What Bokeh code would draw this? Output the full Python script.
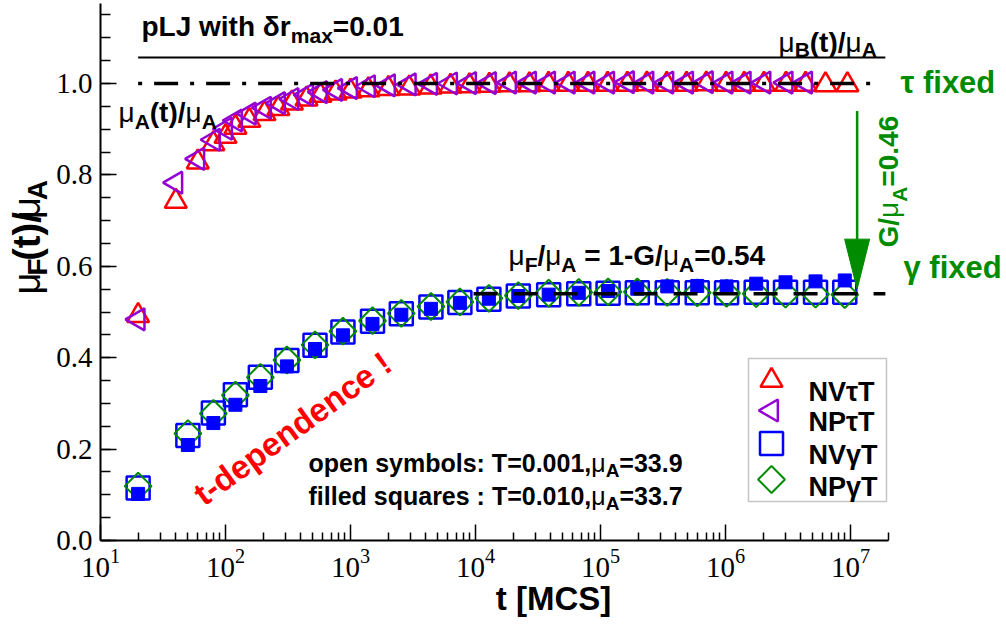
import math
from bokeh.plotting import figure
from bokeh.layouts import row
from bokeh.models import (Label, BoxAnnotation, FixedTicker, SingleIntervalTicker,
                          PrintfTickFormatter, LogTickFormatter)
from bokeh.embed import file_html
from bokeh.resources import INLINE

# ---------------- data ----------------
# tau-fixed ensembles (open triangles), T = 0.001
t_nv_tau = [20, 40, 60, 80, 100, 120, 155, 205, 265, 340, 445, 575, 760, 1000, 1390,
            2010, 2950, 4370, 6310, 8950, 12900, 18700, 27000, 38400, 55200, 79400,
            114000, 164000, 235000, 339000, 488000, 702000, 1010000, 1410000, 2030000,
            3050000, 4370000, 6310000, 9450000]
nv_tau = [0.492, 0.742, 0.828, 0.868, 0.884, 0.904, 0.919, 0.934, 0.945, 0.957, 0.966,
          0.974, 0.979, 0.983, 0.986, 0.989, 0.990, 0.992, 0.994, 0.995, 0.996, 0.997,
          0.997, 0.998, 0.998, 0.998, 0.998, 0.998, 0.999, 0.998, 0.998, 0.999, 0.998,
          0.998, 0.998, 0.998, 0.998, 0.997, 0.997]
t_np_tau = [20, 40, 60, 80, 100, 120, 155, 205, 265, 340, 445, 575, 760, 1000, 1390,
            2010, 2950, 4370, 6310, 8950, 12900, 18700, 27000, 38400, 55200, 79400,
            114000, 164000, 235000, 339000, 488000, 702000, 1010000, 1410000, 2030000,
            3050000, 4370000]
np_tau = [0.484, 0.783, 0.835, 0.877, 0.901, 0.919, 0.934, 0.947, 0.957, 0.966, 0.975,
          0.981, 0.986, 0.990, 0.994, 0.996, 0.998, 0.999, 1.000, 1.001, 1.001, 1.002,
          1.002, 1.002, 1.002, 1.002, 1.002, 1.003, 1.002, 1.002, 1.002, 1.003, 1.002,
          1.002, 1.002, 1.002, 1.002]

# gamma-fixed ensembles (open squares / diamonds T=0.001, filled squares T=0.010)
t_gamma = [20, 50, 80, 120, 190, 310, 520, 870, 1500, 2550, 4400, 7500, 12800, 22000,
           38500, 67000, 115000, 197000, 342000, 594000, 1020000, 1760000, 3020000,
           5250000, 9000000]
nv_gamma = [0.115, 0.230, 0.279, 0.319, 0.357, 0.394, 0.427, 0.456, 0.480, 0.496, 0.511,
            0.521, 0.528, 0.535, 0.538, 0.540, 0.541, 0.542, 0.542, 0.542, 0.542, 0.543,
            0.543, 0.543, 0.543]
np_gamma = [0.119, 0.234, 0.278, 0.318, 0.357, 0.395, 0.428, 0.458, 0.481, 0.497, 0.512,
            0.522, 0.530, 0.536, 0.541, 0.543, 0.544, 0.544, 0.543, 0.542, 0.541, 0.540,
            0.539, 0.539, 0.538]
nv_gamma_T010 = [0.102, 0.209, 0.257, 0.297, 0.338, 0.381, 0.419, 0.449, 0.474, 0.494,
                 0.507, 0.520, 0.529, 0.535, 0.538, 0.542, 0.546, 0.551, 0.556, 0.557,
                 0.556, 0.562, 0.565, 0.567, 0.569]

# reference levels
mu_B_ratio = 1.057          # mu_B(t)/mu_A
mu_B_t = [20, 1.9e7]
mu_A_ratio = 1.0            # mu_A(t)/mu_A
mu_A_t = [20, 1.45e7]
mu_F_ratio = 0.54           # mu_F/mu_A = 1 - G/mu_A
mu_F_t = [9650, 1.9e7]
arrow_t = 1.13e7
arrow_y = [0.94, 0.55]

x_axis_bounds = (10, 2e7)
x_major = [10, 100, 1e3, 1e4, 1e5, 1e6, 1e7]
x_minor = [m * 10 ** k for k in range(1, 8) for m in range(2, 10) if m * 10 ** k <= 2e7]

legend_names = ["NV\u03c4T", "NP\u03c4T", "NV\u03b3T", "NP\u03b3T"]

# ---------------- styling / layout ----------------
RED, VIOLET, BLUE, GREEN = "#ff0000", "#9400d3", "#0000ff", "#008b00"
SANS, SERIF = "Liberation Sans", "Liberation Serif"
H = 624
LW = 52                      # width of the strip holding the y-axis title
W = 1006 - LW
ML, MR, MT, MB = 48, 0, 3, 84
FW, FH = W - ML - MR, H - MT - MB
FRAME_L = LW + ML            # page x of the frame's left edge
FRAME_B = MT + FH            # page y of the frame's bottom edge
DEC_PX = 125.0               # pixels per decade
UNIT_PX = 457.0              # pixels per unit of mu/mu_A
X_MIN = 10
X_END = 10 ** (math.log10(X_MIN) + FW / DEC_PX)
Y_MIN = 0.0
Y_MAX = FH / UNIT_PX
ROT_FIX = 0.36               # baseline correction (em) for vertical texts


def xd(px):
    return 10 ** (math.log10(X_MIN) + (px - FRAME_L) / DEC_PX)


def yd(py):
    return Y_MIN + (FRAME_B - py) / UNIT_PX


BOLDW = {' ': .278, '!': .333, '(': .333, ')': .333, ',': .278, '-': .333, '.': .278,
         '/': .278, ':': .333, '=': .584, 'A': .722, 'B': .722, 'C': .722, 'F': .611,
         'G': .778, 'J': .556, 'L': .611, 'M': .833, 'N': .722, 'P': .667, 'S': .667,
         'T': .611, 'V': .667, '[': .333, ']': .333, 'a': .556, 'b': .611, 'c': .556,
         'd': .611, 'e': .556, 'f': .333, 'h': .611, 'i': .278, 'l': .278, 'm': .889,
         'n': .611, 'o': .611, 'p': .611, 'q': .611, 'r': .389, 's': .556, 't': .333,
         'u': .611, 'w': .778, 'x': .556, 'y': .556, '\u03b4': .611, '\u03c4': .5,
         '\u03b3': .556, '\u03bc': .611}


def text_width(s, size, bold):
    tot = 0.0
    for ch in s:
        if ch.isdigit():
            tot += .556
        elif not bold and ch == '\u03bc':
            tot += .576
        else:
            tot += BOLDW.get(ch, .6)
    return tot * size


def put_runs(fig, fx, fy, x0, y0, runs, color="black", angle=0.0):
    pos = 0.0
    for text, size, bold, shift in runs:
        core = text.strip(" ")
        lead = len(text) - len(text.lstrip(" "))
        trail = len(text) - len(text.rstrip(" "))
        pos += lead * .278 * size
        if angle == 0:
            px, py = x0 + pos, y0 + shift
        else:
            px, py = x0 + shift - ROT_FIX * size, y0 - pos
        fig.add_layout(Label(x=fx(px), y=fy(py), text=core, text_font=SANS,
                             text_font_size=f"{size}px",
                             text_font_style="bold" if bold else "normal",
                             text_color=color, text_align="left",
                             text_baseline="alphabetic", angle=angle))
        pos += text_width(core, size, bold) + trail * .278 * size


# ---------------- main figure ----------------
p = figure(width=W, height=H, x_axis_type="log", x_range=(X_MIN, X_END),
           y_range=(Y_MIN, Y_MAX), output_backend="svg", toolbar_location=None,
           min_border_left=ML, min_border_right=MR, min_border_top=MT,
           min_border_bottom=MB)
p.outline_line_color = None
p.grid.visible = False
p.background_fill_color = "white"
p.border_fill_color = "white"

for ax in (p.xaxis[0], p.yaxis[0]):
    ax.axis_line_width = 2
    ax.axis_line_color = "black"
    ax.major_tick_in = 16
    ax.major_tick_out = 0
    ax.minor_tick_out = 0
    ax.major_tick_line_width = 1.5
    ax.minor_tick_line_width = 1.5
    ax.major_tick_line_color = "black"
    ax.minor_tick_line_color = "black"
    ax.major_label_text_font = SERIF
    ax.major_label_text_font_size = "29px"
    ax.major_label_text_color = "black"
p.xaxis.minor_tick_in = 8
p.yaxis.minor_tick_in = 10
p.xaxis.bounds = x_axis_bounds
p.xaxis.ticker = FixedTicker(ticks=x_major, minor_ticks=x_minor)
p.xaxis.formatter = LogTickFormatter()
p.xaxis.major_label_standoff = 8
p.xaxis.axis_label = "t [MCS]"
p.xaxis.axis_label_text_font = SANS
p.xaxis.axis_label_text_font_style = "bold"
p.xaxis.axis_label_text_font_size = "33px"
p.xaxis.axis_label_text_color = "black"
p.xaxis.axis_label_standoff = 0
p.yaxis.ticker = SingleIntervalTicker(interval=0.2, num_minor_ticks=4)
p.yaxis.formatter = PrintfTickFormatter(format="%.1f")
p.yaxis.major_label_standoff = 8

# data markers
p.scatter(t_nv_tau, nv_tau, marker="triangle", size=22, fill_color=None,
          line_color=RED, line_width=2.5)
p.scatter(t_np_tau, np_tau, marker="triangle", angle=math.pi / 2, size=22,
          fill_color=None, line_color=VIOLET, line_width=2.5)
p.scatter(t_gamma, nv_gamma, marker="square", size=23, fill_color=None,
          line_color=BLUE, line_width=2.5)
p.scatter(t_gamma, np_gamma, marker="square", angle=math.pi / 4, size=19,
          fill_color=None, line_color=GREEN, line_width=2)
p.scatter(t_gamma, nv_gamma_T010, marker="square", size=13, fill_color=BLUE,
          line_color=BLUE, line_width=1)

# reference lines
p.line(mu_B_t, [mu_B_ratio] * 2, line_color="black", line_width=2)
p.line(mu_A_t, [mu_A_ratio] * 2, line_color="black", line_width=3.5,
       line_dash="4 12 24 12")
p.line(mu_F_t, [mu_F_ratio] * 2, line_color="black", line_width=3.5,
       line_dash="24 16")

# arrow G/mu_A
head_base = arrow_y[1] + 50 / UNIT_PX
p.segment(x0=[arrow_t], y0=[arrow_y[0]], x1=[arrow_t], y1=[head_base],
          line_color=GREEN, line_width=2.5)
hw = 10 ** (12.5 / DEC_PX)
p.patch([arrow_t / hw, arrow_t, arrow_t * hw], [head_base, arrow_y[1], head_base],
        fill_color=GREEN, line_color=GREEN, line_width=1)

# texts
MU = "\u03bc"
put_runs(p, xd, yd, 141, 26, [("pLJ with \u03b4r", 28, True, 0), ("max", 21, True, 9),
                              ("=0.01", 28, True, 0)])
put_runs(p, xd, yd, 778, 42, [(MU, 28, False, 0), ("B", 21, True, 7),
                              ("(t)/", 28, True, 0), (MU, 28, False, 0),
                              ("A", 21, True, 7)])
put_runs(p, xd, yd, 118, 112, [(MU, 28, False, 0), ("A", 21, True, 9),
                               ("(t)/", 28, True, 0), (MU, 28, False, 0),
                               ("A", 21, True, 9)])
put_runs(p, xd, yd, 508, 255, [(MU, 28, False, 0), ("F", 21, True, 9), ("/", 28, True, 0),
                               (MU, 28, False, 0), ("A", 21, True, 9),
                               (" = 1-G/", 28, True, 0), (MU, 28, False, 0),
                               ("A", 21, True, 9), ("=0.54", 28, True, 0)])
put_runs(p, xd, yd, 308, 462, [("open symbols: T=0.001,", 25, True, 0), (MU, 25, False, 0),
                               ("A", 19, True, 8), ("=33.9", 25, True, 0)])
put_runs(p, xd, yd, 308, 495, [("filled squares : T=0.010,", 25, True, 0),
                               (MU, 25, False, 0), ("A", 19, True, 8),
                               ("=33.7", 25, True, 0)])
put_runs(p, xd, yd, 898, 247, [("G/", 28, True, 0), (MU, 28, False, 0), ("A", 21, True, 9),
                               ("=0.46", 28, True, 0)], color=GREEN, angle=math.pi / 2)

p.add_layout(Label(x=xd(900), y=yd(99), text="\u03c4 fixed", text_font=SANS,
                   text_font_size="31px", text_font_style="bold", text_color=GREEN))
p.add_layout(Label(x=xd(903), y=yd(284), text="\u03b3 fixed", text_font=SANS,
                   text_font_size="31px", text_font_style="bold", text_color=GREEN))
p.add_layout(Label(x=xd(292), y=yd(428), text="t-dependence !", text_font=SANS,
                   text_font_size="33px", text_font_style="bold", text_color=RED,
                   text_align="center", text_baseline="middle",
                   angle=math.radians(36)))

# legend
p.add_layout(BoxAnnotation(left=xd(748), right=xd(886), bottom=yd(501), top=yd(358),
                           fill_color="white", fill_alpha=1.0, line_color="#404040",
                           line_width=1.5, level="underlay"))
leg_x = xd(771)
leg_rows = [380, 410, 443, 479]
leg_base = [391, 421, 454, 486]
p.scatter([leg_x], [yd(leg_rows[0])], marker="triangle", size=22, fill_color=None,
          line_color=RED, line_width=2.5)
p.scatter([leg_x], [yd(leg_rows[1])], marker="triangle", angle=math.pi / 2, size=22,
          fill_color=None, line_color=VIOLET, line_width=2.5)
p.scatter([leg_x], [yd(leg_rows[2])], marker="square", size=23, fill_color=None,
          line_color=BLUE, line_width=2.5)
p.scatter([leg_x], [yd(leg_rows[3])], marker="square", angle=math.pi / 4, size=19,
          fill_color=None, line_color=GREEN, line_width=2)
for name, b in zip(legend_names, leg_base):
    p.add_layout(Label(x=xd(808), y=yd(b), text=name, text_font=SANS,
                       text_font_size="27px", text_font_style="bold",
                       text_color="black", text_baseline="alphabetic"))

# ---------------- strip with the y-axis title ----------------
ylab = figure(width=LW, height=H, x_range=(0, LW), y_range=(H, 0),
              output_backend="svg", toolbar_location=None, min_border=0,
              min_border_left=0, min_border_right=0, min_border_top=0,
              min_border_bottom=0, x_axis_location=None, y_axis_location=None)
ylab.outline_line_color = None
ylab.grid.visible = False
ylab.background_fill_color = "white"
ylab.border_fill_color = "white"
put_runs(ylab, lambda v: v, lambda v: v, 40, 338,
         [(MU, 38, False, 0), ("F", 28, True, 7), ("(t)/", 38, True, 0),
          (MU, 38, False, 0), ("A", 28, True, 7)], angle=math.pi / 2)

layout = row(ylab, p, spacing=0)
open("out.html", "w").write(file_html(layout, INLINE))
